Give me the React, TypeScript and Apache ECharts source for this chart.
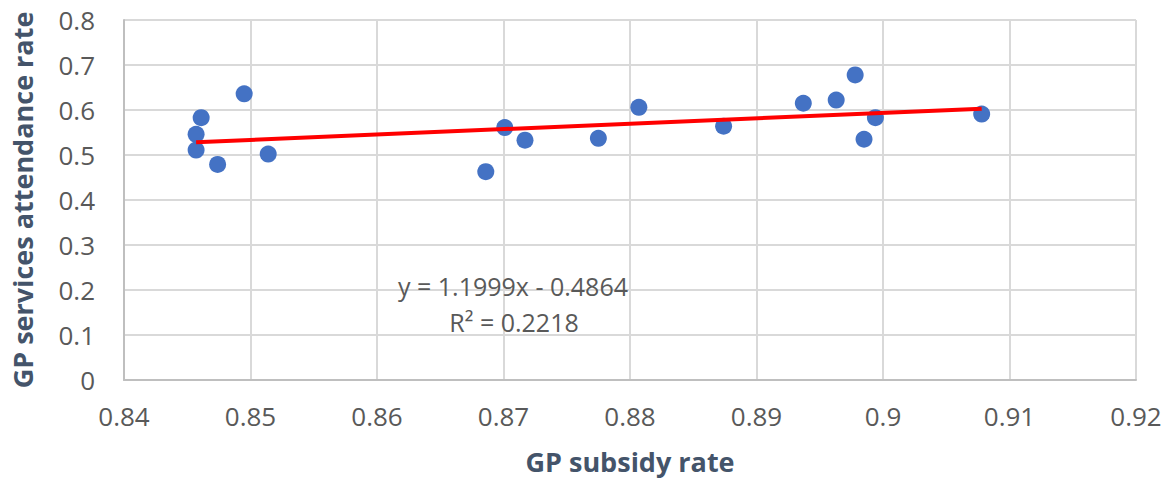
import React, { useEffect, useRef } from "react";
import * as echarts from "echarts";

const subsidyRate = [
  0.8457, 0.8461, 0.8457, 0.8474, 0.8495, 0.8514, 0.8686, 0.8701, 0.8717,
  0.8775, 0.8807, 0.8874, 0.8937, 0.8963, 0.8978, 0.8985, 0.8994, 0.9078,
];
const attendanceRate = [
  0.546, 0.583, 0.511, 0.479, 0.636, 0.502, 0.463, 0.561, 0.533,
  0.537, 0.606, 0.564, 0.615, 0.622, 0.678, 0.535, 0.583, 0.591,
];
const trendSlope = 1.1999;
const trendIntercept = -0.4864;
const r2 = 0.2218;

const xTitle = "GP subsidy rate";
const yTitle = "GP services attendance rate";

export default function App() {
  const ref = useRef<HTMLDivElement>(null);
  useEffect(() => {
    if (!ref.current) return;
    const chart = echarts.init(ref.current, undefined, { renderer: "svg" });
    const pts = subsidyRate.map((x, i) => [x, attendanceRate[i]]);
    const minX = Math.min(...subsidyRate);
    const maxX = Math.max(...subsidyRate);
    const trend = [
      [minX, trendSlope * minX + trendIntercept],
      [maxX, trendSlope * maxX + trendIntercept],
    ];
    const font = "'Open Sans', sans-serif";
    const fmt = (v: number) => String(Number(v.toFixed(2)));
    chart.setOption({
      animation: false,
      grid: { left: 124, right: 29, top: 20, bottom: 103, containLabel: false },
      xAxis: {
        type: "value",
        min: 0.84,
        max: 0.92,
        interval: 0.01,
        name: xTitle,
        nameLocation: "middle",
        nameGap: 68,
        nameTextStyle: { color: "#44546A", fontSize: 27, fontWeight: "bold", fontFamily: font },
        axisLine: { show: true, lineStyle: { color: "#BFBFBF", width: 2 } },
        axisTick: { show: false },
        axisLabel: { color: "#595959", fontSize: 26, fontFamily: font, margin: 23, formatter: fmt },
        splitLine: { show: true, lineStyle: { color: "#D9D9D9", width: 2 } },
      },
      yAxis: {
        type: "value",
        min: 0,
        max: 0.8,
        interval: 0.1,
        name: yTitle,
        nameLocation: "middle",
        nameGap: 88,
        nameRotate: 90,
        nameTextStyle: { color: "#44546A", fontSize: 27, fontWeight: "bold", fontFamily: font },
        axisLine: { show: true, lineStyle: { color: "#BFBFBF", width: 2 } },
        axisTick: { show: false },
        axisLabel: { color: "#595959", fontSize: 26, fontFamily: font, margin: 29, formatter: fmt },
        splitLine: { show: true, lineStyle: { color: "#D9D9D9", width: 2 } },
      },
      series: [
        {
          type: "scatter",
          data: pts,
          symbolSize: 17,
          itemStyle: { color: "#4472C4", opacity: 1 },
          z: 2,
        },
        {
          type: "line",
          data: trend,
          symbol: "none",
          lineStyle: { color: "#FF0000", width: 4 },
          z: 3,
        },
      ],
      graphic: [
        {
          type: "text",
          x: 513,
          y: 286,
          style: {
            text: `y = ${trendSlope}x - ${Math.abs(trendIntercept)}`,
            fill: "#595959",
            font: `25px ${font}`,
            align: "center",
            verticalAlign: "middle",
          },
          z: 10,
        },
        {
          type: "text",
          x: 514,
          y: 322,
          style: {
            text: `R² = ${r2}`,
            fill: "#595959",
            font: `25px ${font}`,
            align: "center",
            verticalAlign: "middle",
          },
          z: 10,
        },
      ],
    });
    return () => chart.dispose();
  }, []);
  return (
    <div
      ref={ref}
      style={{ position: "fixed", left: 0, top: 0, width: 1165, height: 483, background: "#fff" }}
    />
  );
}
